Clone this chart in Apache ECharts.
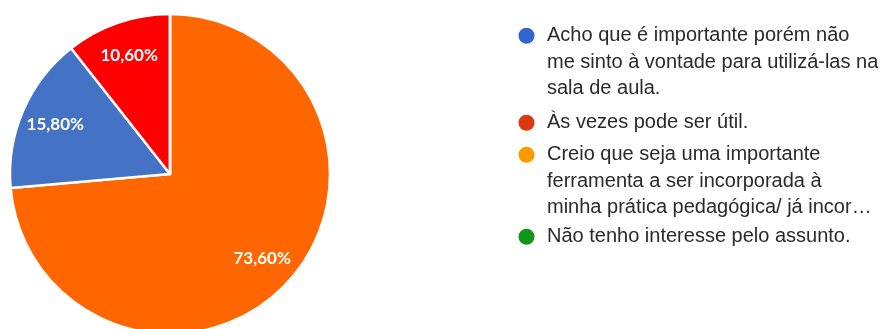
<!DOCTYPE html>
<html>
<head>
<meta charset="utf-8">
<script src="https://cdn.jsdelivr.net/npm/echarts@6/dist/echarts.min.js"></script>
<style>
  html, body { margin: 0; padding: 0; background: #fff; }
  #chart { width: 889px; height: 329px; }
</style>
</head>
<body>
<div id="chart"></div>
<script>
// Survey answers (legend order)
const categories = [
  'Acho que é importante porém não\nme sinto à vontade para utilizá-las na\nsala de aula.',
  'Às vezes pode ser útil.',
  'Creio que seja uma importante\nferramenta a ser incorporada à\nminha prática pedagógica/ já incor…',
  'Não tenho interesse pelo assunto.'
];
// Share of answers, in percent
const values = [15.8, 10.6, 73.6, 0];
// Slice colours and legend dot colours
const sliceColors = ['#4472C4', '#FF0000', '#FF6600', '#2E9E3A'];
const legendColors = ['#3366CC', '#DC3912', '#FF9900', '#109618'];
// Clockwise order of slices starting at 12 o'clock
const sliceOrder = [2, 0, 1, 3];

const LINE_H = 26.5;
const legendTops = [22.5, 109.5, 141.5, 223.5];

function pct(v) {
  return v.toFixed(2).replace('.', ',') + '%';
}

// Circle icon sitting on the first text line of a (possibly multi-line) legend entry
function dotIcon(lines) {
  const w = 24, h = lines * LINE_H, cx = 8.5, cy = LINE_H / 2, r = 8;
  return 'path://M0,0M' + w + ',' + h +
    'M' + (cx - r) + ',' + cy +
    'A' + r + ',' + r + ',0,1,1,' + (cx + r) + ',' + cy +
    'A' + r + ',' + r + ',0,1,1,' + (cx - r) + ',' + cy + 'Z';
}

const pieData = sliceOrder.map(i => ({
  name: categories[i],
  value: values[i],
  itemStyle: { color: sliceColors[i] }
}));

const labelData = sliceOrder.map(i => ({
  name: categories[i],
  value: values[i],
  label: { show: values[i] > 0 }
}));

const legends = categories.map((name, i) => {
  const lines = name.split('\n').length;
  return {
    left: 518,
    top: legendTops[i],
    orient: 'vertical',
    padding: 0,
    selectedMode: false,
    itemWidth: 24,
    itemHeight: lines * LINE_H,
    icon: dotIcon(lines),
    itemStyle: { borderWidth: 0 },
    textStyle: {
      fontFamily: '"Liberation Sans", Arial, sans-serif',
      fontSize: 20,
      color: '#2a2a2a',
      lineHeight: LINE_H
    },
    data: [{ name: name, itemStyle: { color: legendColors[i], borderWidth: 0 } }]
  };
});

const chart = echarts.init(document.getElementById('chart'), null, { renderer: 'canvas' });
chart.setOption({
  animation: false,
  legend: legends,
  series: [
    {
      type: 'pie',
      center: [170, 174],
      radius: [0, 160],
      startAngle: 90,
      clockwise: true,
      silent: true,
      itemStyle: { borderColor: '#fff', borderWidth: 2.5 },
      label: { show: false },
      labelLine: { show: false },
      emphasis: { disabled: true },
      data: pieData
    },
    {
      // transparent ring that carries the percentage labels
      type: 'pie',
      center: [170, 174],
      radius: [84, 160],
      startAngle: 90,
      clockwise: true,
      silent: true,
      itemStyle: { color: 'rgba(0,0,0,0)', borderWidth: 0 },
      label: {
        position: 'inside',
        formatter: p => pct(p.value),
        color: '#fff',
        fontFamily: 'Lato, "Open Sans", sans-serif',
        fontWeight: 'bold',
        fontSize: 17
      },
      labelLine: { show: false },
      emphasis: { disabled: true },
      data: labelData
    }
  ]
});
</script>
</body>
</html>
